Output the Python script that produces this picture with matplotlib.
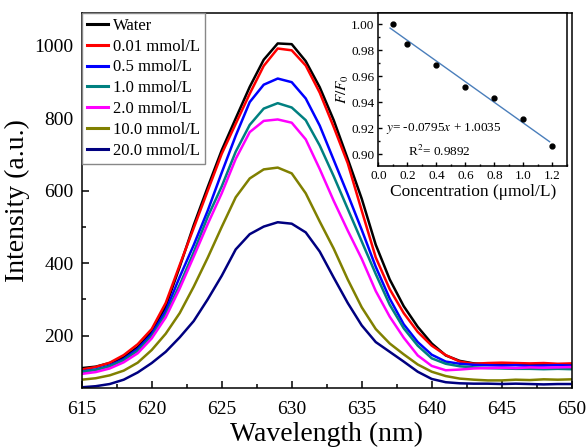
import numpy as np
import matplotlib
matplotlib.use('Agg')
import matplotlib.pyplot as plt
from matplotlib.ticker import MultipleLocator

plt.rcParams['font.family'] = 'Liberation Serif'
plt.rcParams['mathtext.fontset'] = 'stix'

# спектры флуоресценции
wavelength = list(range(615, 651))
water = [110, 114, 124, 140, 168, 210, 280, 390, 505, 610,
         712, 800, 887, 962, 1007, 1005, 958, 886, 795, 688,
         578, 451, 355, 281, 224, 178, 145, 130, 123, 121,
         119, 120, 118, 119, 120, 121]
c001 = [106, 113, 125, 146, 176, 218, 290, 395, 497, 600,
        702, 785, 868, 945, 993, 988, 946, 871, 776, 676,
        545, 416, 328, 262, 210, 172, 146, 128, 122, 124,
        125, 124, 123, 124, 122, 123]
c05 = [101, 106, 117, 135, 163, 204, 268, 362, 450, 545,
       650, 752, 845, 893, 910, 900, 855, 780, 685, 590,
       492, 390, 302, 231, 182, 147, 128, 122, 119, 118,
       117, 118, 116, 117, 118, 117]
c10 = [100, 105, 115, 132, 158, 198, 258, 340, 430, 528,
       612, 708, 782, 827, 842, 830, 795, 725, 640, 550,
       460, 370, 285, 220, 172, 137, 122, 115, 112, 110,
       109, 108, 108, 107, 108, 107]
c20 = [94, 99, 109, 126, 151, 192, 250, 330, 418, 508,
       593, 688, 762, 793, 797, 788, 742, 660, 572, 490,
       412, 323, 252, 194, 145, 116, 104, 106, 109, 110,
       111, 110, 112, 111, 112, 113]
c100 = [78, 82, 90, 103, 125, 160, 205, 262, 335, 415,
        500, 582, 634, 659, 664, 648, 593, 515, 440, 355,
        278, 218, 178, 148, 120, 100, 88, 81, 78, 76,
        76, 78, 77, 79, 78, 79]
c200 = [57, 60, 66, 78, 98, 124, 155, 195, 240, 300,
        365, 438, 480, 501, 513, 509, 485, 432, 360, 290,
        228, 182, 155, 128, 100, 80, 71, 68, 67, 67,
        66, 67, 66, 65, 66, 66]

labels = ['Water', '0.01 mmol/L', '0.5 mmol/L', '1.0 mmol/L',
          '2.0 mmol/L', '10.0 mmol/L', '20.0 mmol/L']
colors = ['#000000', '#ff0000', '#0000ff', '#008080',
          '#ff00ff', '#808000', '#000080']
spectra = [water, c001, c05, c10, c20, c100, c200]

# данные вставки
conc = [0.1, 0.2, 0.4, 0.6, 0.8, 1.0, 1.2]
ratio = [1.000, 0.985, 0.9685, 0.952, 0.943, 0.927, 0.906]
fit_slope = -0.0795
fit_intercept = 1.0035
fit_range = [0.08, 1.18]

fig = plt.figure(figsize=(5.87, 4.48), dpi=100)
ax = fig.add_axes([0.1392, 0.1339, 0.8348, 0.8378])

for y, c, lab in zip(spectra, colors, labels):
    ax.plot(wavelength, y, color=c, lw=1.8, label=lab)

ax.set_xlim(615, 650)
ax.set_ylim(55, 1092)
ax.xaxis.set_major_locator(MultipleLocator(5))
ax.xaxis.set_minor_locator(MultipleLocator(2.5))
ax.yaxis.set_major_locator(MultipleLocator(200))
ax.yaxis.set_minor_locator(MultipleLocator(100))
ax.tick_params(which='both', direction='in', top=False, right=False,
               labelsize=14, width=1.1, pad=6)
ax.tick_params(axis='x', which='major', pad=9)
ax.tick_params(which='major', length=5)
ax.tick_params(which='minor', length=3)
for s in ax.spines.values():
    s.set_linewidth(1.1)
ax.set_xlabel('Wavelength (nm)', fontsize=20, labelpad=3)
ax.set_ylabel('Intensity (a.u.)', fontsize=20, labelpad=3)

leg = ax.legend(loc='upper left', bbox_to_anchor=(0, 1), borderaxespad=0,
                fontsize=12, handlelength=1.3, handletextpad=0.25,
                labelspacing=0.29, borderpad=0.3, fancybox=False,
                framealpha=1)
leg.get_frame().set_edgecolor('#888888')
leg.get_frame().set_linewidth(1.0)
for line in leg.get_lines():
    line.set_linewidth(2.2)

# вставка: F/F0 от концентрации
ins = fig.add_axes([0.6448, 0.6295, 0.3211, 0.3422])
fit_x = np.array(fit_range)
ins.plot(fit_x, fit_slope * fit_x + fit_intercept, color='#4a7ebb', lw=1.0)
ins.plot(conc, ratio, 'o', color='black', markersize=3.5)
ins.set_xlim(0, 1.3)
ins.set_ylim(0.891, 1.009)
ins.xaxis.set_major_locator(MultipleLocator(0.2))
ins.xaxis.set_minor_locator(MultipleLocator(0.1))
ins.yaxis.set_major_locator(MultipleLocator(0.02))
ins.yaxis.set_minor_locator(MultipleLocator(0.01))
ins.xaxis.set_major_formatter(plt.FormatStrFormatter('%.1f'))
ins.yaxis.set_major_formatter(plt.FormatStrFormatter('%.2f'))
ins.tick_params(which='both', direction='in', top=False, right=False,
                labelsize=9.5, width=1.0, pad=3)
ins.tick_params(which='major', length=3)
ins.tick_params(which='minor', length=1.5)
for s in ins.spines.values():
    s.set_linewidth(1.1)
ins.set_xlabel('Concentration (μmol/L)', fontsize=12.5, labelpad=1)
ins.set_ylabel('$F/F_0$', fontsize=11, labelpad=0)
ins.text(0.052, 0.92, '$y$= -0.0795$x$ + 1.0035', fontsize=9.5, va='center')
ins.text(0.203, 0.902, 'R$^2$= 0.9892', fontsize=9.5, va='center')

fig.savefig('out.png', dpi=100)
